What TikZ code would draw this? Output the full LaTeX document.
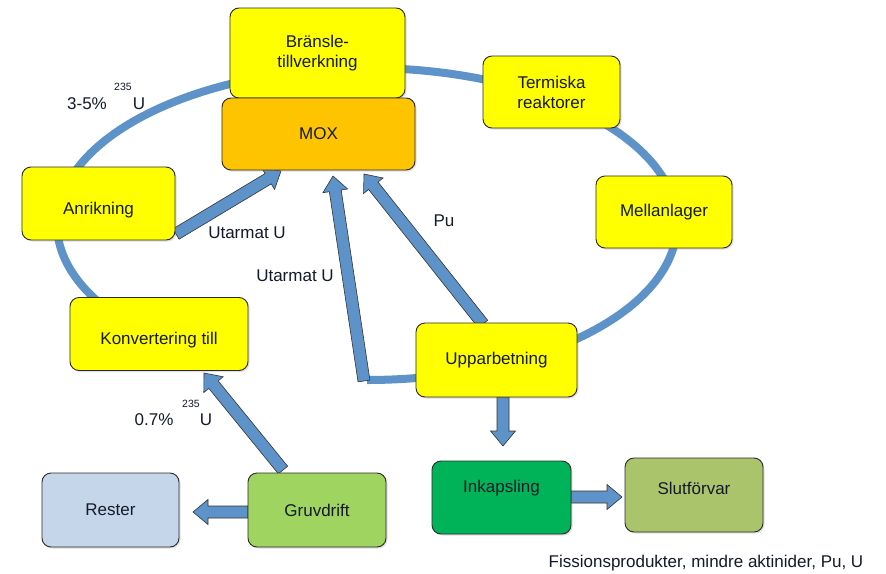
\documentclass[tikz,border=0pt]{standalone}
\usepackage{fontspec}
\setmainfont{Liberation Sans}
\usetikzlibrary{calc,backgrounds,shadows}
\definecolor{ringblue}{HTML}{5E93C9}
\definecolor{boxyellow}{HTML}{FFFF00}
\definecolor{moxorange}{HTML}{FFC400}
\definecolor{inkgreen}{HTML}{00B359}
\definecolor{slutgreen}{HTML}{AAC46C}
\definecolor{gruvgreen}{HTML}{A0D460}
\definecolor{resterblue}{HTML}{C5D6EA}
\definecolor{edgegray}{HTML}{2B2B2B}
\definecolor{txt}{HTML}{141A2A}
\newcommand\blockarrow[2]{%
  \coordinate (bahead) at ($(#2)!15pt!(#1)$);
  \draw[blockarr] ($(#1)!6pt!90:(#2)$) -- ($(bahead)!6pt!90:(#2)$) -- ($(bahead)!12.5pt!90:(#2)$) -- (#2) -- ($(bahead)!12.5pt!-90:(#2)$) -- ($(bahead)!6pt!-90:(#2)$) -- ($(#1)!6pt!-90:(#2)$) -- cycle;}
\tikzset{
  box/.style={draw=edgegray, line width=0.9pt, rounded corners=9pt, text=txt,
    font=\fontsize{17}{20}\selectfont, align=center, inner sep=0pt,
    drop shadow={shadow xshift=1.5pt,shadow yshift=-1.5pt,opacity=0.25}},
  lbl/.style={text=txt, font=\fontsize{17}{20}\selectfont, inner sep=0pt},
  suplbl/.style={text=txt, font=\fontsize{10.5}{12}\selectfont, inner sep=0pt},
  blockarr/.style={fill=ringblue, draw=black!80, line width=0.6pt, line join=miter},
  ring/.style={draw=ringblue, line width=8pt},
}
\begin{document}
\begin{tikzpicture}[x=1pt,y=-1pt]
\useasboundingbox (0,0) rectangle (886,573);
% boxes
\node[box, fill=boxyellow, minimum width=175pt, minimum height=90pt] (bra) at (317.5,53) {Bränsle-\\tillverkning};
\node[box, fill=moxorange, minimum width=193pt, minimum height=72pt] (mox) at (318.5,134) {MOX};
\node[box, fill=boxyellow, minimum width=137pt, minimum height=72pt] (term) at (551.5,92) {Termiska\\reaktorer};
\node[box, fill=boxyellow, minimum width=136pt, minimum height=72pt] (mell) at (664,212) {Mellanlager};
\node[box, fill=boxyellow, minimum width=153pt, minimum height=73pt, text height=25pt, text depth=3pt] (anr) at (98.5,203.5) {Anrikning};
\node[box, fill=boxyellow, minimum width=178pt, minimum height=73pt, text height=24pt, text depth=3pt] (konv) at (159,334) {Konvertering till};
\node[box, fill=boxyellow, minimum width=161pt, minimum height=74pt] (upp) at (496.5,360) {Upparbetning};
\node[box, fill=inkgreen, minimum width=139pt, minimum height=73pt, text height=12pt, text depth=23pt] (ink) at (501.5,497.5) {Inkapsling};
\node[box, fill=slutgreen, minimum width=138pt, minimum height=74pt, text height=12pt, text depth=13pt] (slut) at (694,495) {Slutförvar};
\node[box, fill=resterblue, minimum width=137pt, minimum height=74pt] (rest) at (110.5,510) {Rester};
\node[box, fill=gruvgreen, minimum width=138pt, minimum height=74pt] (gruv) at (317,510) {Gruvdrift};
% labels
\node[lbl] (l35) at (87,104) {3-5\%};
\node[suplbl] (l35s) at (123,87) {235};
\node[lbl] (l35u) at (139,104) {U};
\node[lbl] (lutar1) at (247,233) {Utarmat U};
\node[lbl] (lutar2) at (295,276) {Utarmat U};
\node[lbl] (lpu) at (444,221) {Pu};
\node[lbl] (l07) at (154,420) {0.7\%};
\node[suplbl] (l07s) at (191,404) {235};
\node[lbl] (l07u) at (206,420) {U};
\node[lbl] (lfis) at (706,563) {Fissionsprodukter, mindre aktinider, Pu, U};
% connector end points
\coordinate (ringC) at (367,224);
\coordinate (anrOut) at (176,234);
\coordinate (moxInA) at (281,171);
\coordinate (ringBot) at (364,381);
\coordinate (moxInB) at (333,176);
\coordinate (uppTop) at (483,324);
\coordinate (moxInC) at (364,174);
\coordinate (uppBot) at (503,397);
\coordinate (inkTop) at (503,446);
\coordinate (inkOut) at (571,497);
\coordinate (slutIn) at (622,497);
\coordinate (gruvW) at (248,512);
\coordinate (restIn) at (193,512);
\coordinate (gruvTop) at (283,470);
\coordinate (konvIn) at (204,373);
\begin{scope}[on background layer]
  \fill[white] (0,0) rectangle (886,573);
  \draw[ring] ([shift={(220:310pt and 156pt)}]ringC) arc[start angle=220, end angle=-90, x radius=310pt, y radius=156pt];
  \blockarrow{anrOut}{moxInA}
  \blockarrow{ringBot}{moxInB}
  \blockarrow{uppTop}{moxInC}
  \blockarrow{uppBot}{inkTop}
  \blockarrow{inkOut}{slutIn}
  \blockarrow{gruvW}{restIn}
  \blockarrow{gruvTop}{konvIn}
\end{scope}
\end{tikzpicture}
\end{document}
